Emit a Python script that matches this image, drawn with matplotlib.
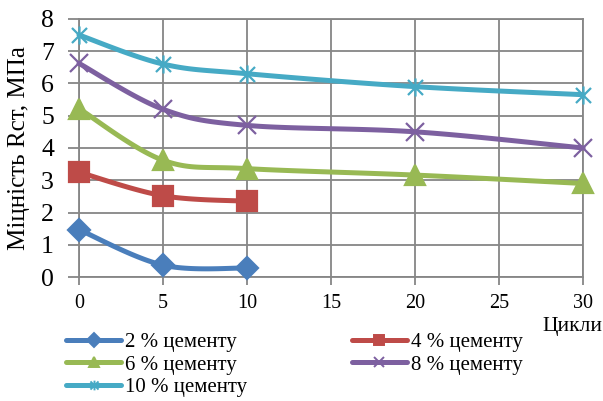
import numpy as np
import matplotlib
matplotlib.use("Agg")
import matplotlib.pyplot as plt
from matplotlib.path import Path

# ── data ──────────────────────────────────────────────────────────────────
cycles_short = [0, 5, 10]
cycles_long = [0, 5, 10, 20, 30]
r_2 = [1.47, 0.37, 0.28]
r_4 = [3.25, 2.52, 2.35]
r_6 = [5.22, 3.62, 3.36, 3.16, 2.9]
r_8 = [6.62, 5.2, 4.7, 4.5, 4.0]
r_10 = [7.5, 6.6, 6.3, 5.9, 5.65]
labels = ["2 % цементу", "4 % цементу", "6 % цементу", "8 % цементу", "10 % цементу"]

colors = ["#4A7EBB", "#BE4B48", "#98B954", "#7D60A0", "#46AAC5"]

plt.rcParams["font.family"] = ["Liberation Serif", "DejaVu Serif"]


def smooth(x, y, n=30):
    """Catmull-Rom path through the points (Excel style smoothed line)."""
    x = np.asarray(x, float)
    y = np.asarray(y, float)
    px = np.concatenate([[x[0]], x, [x[-1]]])
    py = np.concatenate([[y[0]], y, [y[-1]]])
    xs, ys = [], []
    t = np.linspace(0, 1, n)
    for i in range(1, len(px) - 2):
        p0, p1, p2, p3 = [(px[j], py[j]) for j in range(i - 1, i + 3)]
        for k in range(2):
            a, b, c, d = p0[k], p1[k], p2[k], p3[k]
            v = 0.5 * ((2 * b) + (-a + c) * t + (2 * a - 5 * b + 4 * c - d) * t ** 2
                       + (-a + 3 * b - 3 * c + d) * t ** 3)
            (xs if k == 0 else ys).append(v)
    return np.concatenate(xs), np.concatenate(ys)


# Excel "star" marker: an x with a vertical bar
star = Path([(-1, -1), (1, 1), (-1, 1), (1, -1), (0, -1.2), (0, 1.2)],
            [Path.MOVETO, Path.LINETO, Path.MOVETO, Path.LINETO, Path.MOVETO, Path.LINETO])

series = [
    (cycles_short, r_2, "D", 11),
    (cycles_short, r_4, "s", 14),
    (cycles_long, r_6, "^", 14),
    (cycles_long, r_8, "x", 13),
    (cycles_long, r_10, star, 13),
]

fig = plt.figure(figsize=(6.03, 4.01), dpi=100, facecolor="white")
ax = fig.add_axes([0.131, 0.309, 0.836, 0.644])

handles = []
for (xv, yv, mk, ms), col, lab in zip(series, colors, labels):
    sx, sy = smooth(xv, yv)
    ax.plot(sx, sy, color=col, lw=3.6, solid_capstyle="round", zorder=3,
            clip_on=False)
    ax.plot(xv, yv, ls="none", marker=mk, ms=ms, color=col, mec=col,
            mew=1.6, zorder=4, clip_on=False)
    h, = ax.plot([], [], color=col, lw=3.6, marker=mk, ms=7, mec=col, mew=1.4,
                 solid_capstyle="round", label=lab)
    handles.append(h)

ax.set_xlim(0, 30)
ax.set_ylim(0, 8)
ax.set_xticks(range(0, 31, 5))
ax.set_yticks(range(0, 9))
ax.grid(True, color="#868686", lw=1.3)
ax.set_axisbelow(True)
for s in ax.spines.values():
    s.set_color("#868686")
    s.set_linewidth(1.3)
ax.tick_params(axis="y", colors="#868686", length=8, width=1.3,
               labelcolor="black", labelsize=18.5, pad=10)
ax.tick_params(axis="x", colors="#868686", length=6, width=1.3,
               labelcolor="black", labelsize=14.5, pad=6)
ax.set_ylabel("Міцність Rст, МПа", fontsize=18, labelpad=8)
ax.yaxis.set_label_coords(-0.098, 0.5)
fig.text(0.950, 0.185, "Цикли", fontsize=15.5, ha="center", va="center")

order = [0, 2, 4, 1, 3]
fig.legend([handles[i] for i in order], [labels[i] for i in order],
           ncol=2, loc="upper left", bbox_to_anchor=(0.093, 0.197),
           frameon=False, fontsize=15, handlelength=2.64, handletextpad=0.19,
           columnspacing=5.0, labelspacing=0.15, borderpad=0)

fig.savefig("out.png", dpi=100, facecolor="white")
